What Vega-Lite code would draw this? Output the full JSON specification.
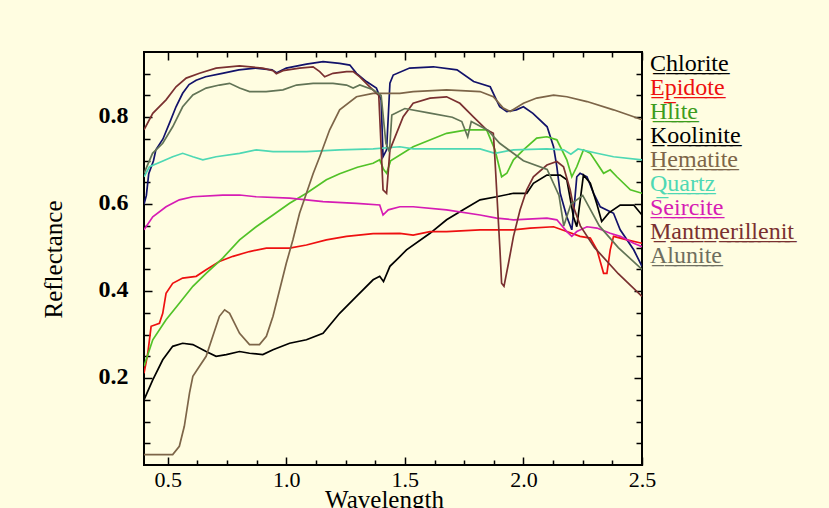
{
  "$schema": "https://vega.github.io/schema/vega-lite/v6.json",
  "width": 498,
  "height": 413,
  "autosize": {"type": "none"},
  "padding": {"left": 144, "top": 52, "right": 187, "bottom": 43},
  "background": "#fffde1",
  "config": {
    "view": {"stroke": "#000000", "strokeWidth": 2, "fill": "#fffde1"},
    "font": "Liberation Serif"
  },
  "datasets": {
    "spectra": [
      {"m":"Koolinite","w":0.40,"r":0.60},{"m":"Koolinite","w":0.41,"r":0.62},{"m":"Koolinite","w":0.42,"r":0.67},{"m":"Koolinite","w":0.44,"r":0.70},{"m":"Koolinite","w":0.45,"r":0.725},{"m":"Koolinite","w":0.48,"r":0.75},{"m":"Koolinite","w":0.51,"r":0.79},{"m":"Koolinite","w":0.535,"r":0.824},{"m":"Koolinite","w":0.563,"r":0.855},{"m":"Koolinite","w":0.59,"r":0.875},{"m":"Koolinite","w":0.62,"r":0.885},{"m":"Koolinite","w":0.66,"r":0.893},{"m":"Koolinite","w":0.73,"r":0.901},{"m":"Koolinite","w":0.80,"r":0.909},{"m":"Koolinite","w":0.87,"r":0.913},{"m":"Koolinite","w":0.94,"r":0.909},{"m":"Koolinite","w":0.96,"r":0.902},{"m":"Koolinite","w":1.0,"r":0.913},{"m":"Koolinite","w":1.085,"r":0.922},{"m":"Koolinite","w":1.155,"r":0.928},{"m":"Koolinite","w":1.225,"r":0.924},{"m":"Koolinite","w":1.268,"r":0.92},{"m":"Koolinite","w":1.296,"r":0.901},{"m":"Koolinite","w":1.338,"r":0.882},{"m":"Koolinite","w":1.38,"r":0.867},{"m":"Koolinite","w":1.40,"r":0.84},{"m":"Koolinite","w":1.408,"r":0.709},{"m":"Koolinite","w":1.423,"r":0.725},{"m":"Koolinite","w":1.437,"r":0.878},{"m":"Koolinite","w":1.451,"r":0.897},{"m":"Koolinite","w":1.52,"r":0.913},{"m":"Koolinite","w":1.62,"r":0.916},{"m":"Koolinite","w":1.72,"r":0.909},{"m":"Koolinite","w":1.79,"r":0.882},{"m":"Koolinite","w":1.86,"r":0.87},{"m":"Koolinite","w":1.88,"r":0.847},{"m":"Koolinite","w":1.90,"r":0.824},{"m":"Koolinite","w":1.93,"r":0.813},{"m":"Koolinite","w":1.97,"r":0.817},{"m":"Koolinite","w":2.0,"r":0.824},{"m":"Koolinite","w":2.04,"r":0.809},{"m":"Koolinite","w":2.10,"r":0.778},{"m":"Koolinite","w":2.127,"r":0.732},{"m":"Koolinite","w":2.141,"r":0.686},{"m":"Koolinite","w":2.155,"r":0.625},{"m":"Koolinite","w":2.183,"r":0.571},{"m":"Koolinite","w":2.204,"r":0.541},{"m":"Koolinite","w":2.215,"r":0.60},{"m":"Koolinite","w":2.225,"r":0.663},{"m":"Koolinite","w":2.239,"r":0.671},{"m":"Koolinite","w":2.268,"r":0.663},{"m":"Koolinite","w":2.296,"r":0.625},{"m":"Koolinite","w":2.324,"r":0.594},{"m":"Koolinite","w":2.38,"r":0.579},{"m":"Koolinite","w":2.408,"r":0.541},{"m":"Koolinite","w":2.465,"r":0.495},{"m":"Koolinite","w":2.50,"r":0.457},

      {"m":"Chlorite","w":0.40,"r":0.15},{"m":"Chlorite","w":0.437,"r":0.196},{"m":"Chlorite","w":0.479,"r":0.242},{"m":"Chlorite","w":0.521,"r":0.273},{"m":"Chlorite","w":0.563,"r":0.28},{"m":"Chlorite","w":0.606,"r":0.277},{"m":"Chlorite","w":0.662,"r":0.261},{"m":"Chlorite","w":0.704,"r":0.25},{"m":"Chlorite","w":0.747,"r":0.254},{"m":"Chlorite","w":0.803,"r":0.261},{"m":"Chlorite","w":0.845,"r":0.257},{"m":"Chlorite","w":0.901,"r":0.254},{"m":"Chlorite","w":0.944,"r":0.265},{"m":"Chlorite","w":1.014,"r":0.28},{"m":"Chlorite","w":1.085,"r":0.288},{"m":"Chlorite","w":1.155,"r":0.303},{"m":"Chlorite","w":1.225,"r":0.349},{"m":"Chlorite","w":1.296,"r":0.388},{"m":"Chlorite","w":1.366,"r":0.426},{"m":"Chlorite","w":1.394,"r":0.434},{"m":"Chlorite","w":1.41,"r":0.422},{"m":"Chlorite","w":1.437,"r":0.457},{"m":"Chlorite","w":1.48,"r":0.48},{"m":"Chlorite","w":1.507,"r":0.495},{"m":"Chlorite","w":1.606,"r":0.533},{"m":"Chlorite","w":1.676,"r":0.564},{"m":"Chlorite","w":1.746,"r":0.587},{"m":"Chlorite","w":1.817,"r":0.61},{"m":"Chlorite","w":1.887,"r":0.617},{"m":"Chlorite","w":1.958,"r":0.625},{"m":"Chlorite","w":2.014,"r":0.625},{"m":"Chlorite","w":2.042,"r":0.648},{"m":"Chlorite","w":2.099,"r":0.667},{"m":"Chlorite","w":2.155,"r":0.667},{"m":"Chlorite","w":2.183,"r":0.656},{"m":"Chlorite","w":2.211,"r":0.571},{"m":"Chlorite","w":2.225,"r":0.548},{"m":"Chlorite","w":2.253,"r":0.667},{"m":"Chlorite","w":2.282,"r":0.648},{"m":"Chlorite","w":2.31,"r":0.60},{"m":"Chlorite","w":2.33,"r":0.56},{"m":"Chlorite","w":2.36,"r":0.58},{"m":"Chlorite","w":2.408,"r":0.598},{"m":"Chlorite","w":2.465,"r":0.598},{"m":"Chlorite","w":2.50,"r":0.575},

      {"m":"Epidote","w":0.40,"r":0.211},{"m":"Epidote","w":0.416,"r":0.257},{"m":"Epidote","w":0.43,"r":0.319},{"m":"Epidote","w":0.465,"r":0.326},{"m":"Epidote","w":0.479,"r":0.349},{"m":"Epidote","w":0.493,"r":0.395},{"m":"Epidote","w":0.521,"r":0.418},{"m":"Epidote","w":0.563,"r":0.43},{"m":"Epidote","w":0.62,"r":0.434},{"m":"Epidote","w":0.662,"r":0.449},{"m":"Epidote","w":0.718,"r":0.468},{"m":"Epidote","w":0.775,"r":0.48},{"m":"Epidote","w":0.845,"r":0.491},{"m":"Epidote","w":0.916,"r":0.499},{"m":"Epidote","w":1.014,"r":0.499},{"m":"Epidote","w":1.085,"r":0.506},{"m":"Epidote","w":1.169,"r":0.518},{"m":"Epidote","w":1.254,"r":0.526},{"m":"Epidote","w":1.366,"r":0.532},{"m":"Epidote","w":1.479,"r":0.533},{"m":"Epidote","w":1.535,"r":0.529},{"m":"Epidote","w":1.606,"r":0.537},{"m":"Epidote","w":1.676,"r":0.537},{"m":"Epidote","w":1.817,"r":0.541},{"m":"Epidote","w":1.958,"r":0.541},{"m":"Epidote","w":2.028,"r":0.545},{"m":"Epidote","w":2.127,"r":0.548},{"m":"Epidote","w":2.183,"r":0.537},{"m":"Epidote","w":2.239,"r":0.526},{"m":"Epidote","w":2.282,"r":0.522},{"m":"Epidote","w":2.31,"r":0.495},{"m":"Epidote","w":2.338,"r":0.441},{"m":"Epidote","w":2.352,"r":0.441},{"m":"Epidote","w":2.366,"r":0.495},{"m":"Epidote","w":2.38,"r":0.526},{"m":"Epidote","w":2.437,"r":0.518},{"m":"Epidote","w":2.50,"r":0.51},

      {"m":"Hlite","w":0.40,"r":0.227},{"m":"Hlite","w":0.437,"r":0.288},{"m":"Hlite","w":0.493,"r":0.334},{"m":"Hlite","w":0.549,"r":0.372},{"m":"Hlite","w":0.606,"r":0.411},{"m":"Hlite","w":0.662,"r":0.441},{"m":"Hlite","w":0.732,"r":0.476},{"m":"Hlite","w":0.803,"r":0.518},{"m":"Hlite","w":0.873,"r":0.548},{"m":"Hlite","w":0.944,"r":0.575},{"m":"Hlite","w":1.014,"r":0.602},{"m":"Hlite","w":1.085,"r":0.625},{"m":"Hlite","w":1.169,"r":0.656},{"m":"Hlite","w":1.225,"r":0.67},{"m":"Hlite","w":1.30,"r":0.685},{"m":"Hlite","w":1.366,"r":0.694},{"m":"Hlite","w":1.394,"r":0.702},{"m":"Hlite","w":1.41,"r":0.68},{"m":"Hlite","w":1.423,"r":0.671},{"m":"Hlite","w":1.44,"r":0.70},{"m":"Hlite","w":1.535,"r":0.732},{"m":"Hlite","w":1.676,"r":0.763},{"m":"Hlite","w":1.761,"r":0.771},{"m":"Hlite","w":1.845,"r":0.771},{"m":"Hlite","w":1.88,"r":0.725},{"m":"Hlite","w":1.908,"r":0.663},{"m":"Hlite","w":1.93,"r":0.671},{"m":"Hlite","w":1.958,"r":0.702},{"m":"Hlite","w":2.0,"r":0.725},{"m":"Hlite","w":2.056,"r":0.752},{"m":"Hlite","w":2.099,"r":0.755},{"m":"Hlite","w":2.141,"r":0.748},{"m":"Hlite","w":2.183,"r":0.702},{"m":"Hlite","w":2.204,"r":0.663},{"m":"Hlite","w":2.225,"r":0.686},{"m":"Hlite","w":2.253,"r":0.725},{"m":"Hlite","w":2.282,"r":0.717},{"m":"Hlite","w":2.31,"r":0.694},{"m":"Hlite","w":2.338,"r":0.671},{"m":"Hlite","w":2.366,"r":0.679},{"m":"Hlite","w":2.394,"r":0.663},{"m":"Hlite","w":2.451,"r":0.633},{"m":"Hlite","w":2.50,"r":0.625},

      {"m":"Quartz","w":0.40,"r":0.663},{"m":"Quartz","w":0.423,"r":0.686},{"m":"Quartz","w":0.465,"r":0.696},{"m":"Quartz","w":0.521,"r":0.709},{"m":"Quartz","w":0.563,"r":0.717},{"m":"Quartz","w":0.606,"r":0.709},{"m":"Quartz","w":0.648,"r":0.702},{"m":"Quartz","w":0.704,"r":0.709},{"m":"Quartz","w":0.803,"r":0.717},{"m":"Quartz","w":0.873,"r":0.725},{"m":"Quartz","w":0.944,"r":0.721},{"m":"Quartz","w":1.085,"r":0.721},{"m":"Quartz","w":1.225,"r":0.725},{"m":"Quartz","w":1.366,"r":0.727},{"m":"Quartz","w":1.479,"r":0.732},{"m":"Quartz","w":1.535,"r":0.727},{"m":"Quartz","w":1.817,"r":0.727},{"m":"Quartz","w":1.88,"r":0.717},{"m":"Quartz","w":1.958,"r":0.725},{"m":"Quartz","w":2.099,"r":0.727},{"m":"Quartz","w":2.17,"r":0.725},{"m":"Quartz","w":2.2,"r":0.715},{"m":"Quartz","w":2.23,"r":0.727},{"m":"Quartz","w":2.31,"r":0.717},{"m":"Quartz","w":2.38,"r":0.709},{"m":"Quartz","w":2.50,"r":0.702},

      {"m":"Seircite","w":0.40,"r":0.541},{"m":"Seircite","w":0.437,"r":0.571},{"m":"Seircite","w":0.493,"r":0.594},{"m":"Seircite","w":0.549,"r":0.61},{"m":"Seircite","w":0.606,"r":0.617},{"m":"Seircite","w":0.732,"r":0.621},{"m":"Seircite","w":0.803,"r":0.621},{"m":"Seircite","w":0.873,"r":0.617},{"m":"Seircite","w":1.014,"r":0.614},{"m":"Seircite","w":1.155,"r":0.606},{"m":"Seircite","w":1.296,"r":0.602},{"m":"Seircite","w":1.394,"r":0.598},{"m":"Seircite","w":1.408,"r":0.575},{"m":"Seircite","w":1.43,"r":0.587},{"m":"Seircite","w":1.479,"r":0.594},{"m":"Seircite","w":1.535,"r":0.594},{"m":"Seircite","w":1.676,"r":0.587},{"m":"Seircite","w":1.817,"r":0.575},{"m":"Seircite","w":1.887,"r":0.568},{"m":"Seircite","w":1.958,"r":0.564},{"m":"Seircite","w":2.099,"r":0.568},{"m":"Seircite","w":2.141,"r":0.564},{"m":"Seircite","w":2.183,"r":0.537},{"m":"Seircite","w":2.204,"r":0.526},{"m":"Seircite","w":2.225,"r":0.537},{"m":"Seircite","w":2.268,"r":0.548},{"m":"Seircite","w":2.31,"r":0.545},{"m":"Seircite","w":2.366,"r":0.533},{"m":"Seircite","w":2.408,"r":0.526},{"m":"Seircite","w":2.465,"r":0.51},{"m":"Seircite","w":2.50,"r":0.502},

      {"m":"Hematite","w":0.40,"r":0.024},{"m":"Hematite","w":0.465,"r":0.024},{"m":"Hematite","w":0.521,"r":0.024},{"m":"Hematite","w":0.549,"r":0.043},{"m":"Hematite","w":0.57,"r":0.089},{"m":"Hematite","w":0.592,"r":0.166},{"m":"Hematite","w":0.606,"r":0.204},{"m":"Hematite","w":0.634,"r":0.227},{"m":"Hematite","w":0.662,"r":0.25},{"m":"Hematite","w":0.69,"r":0.296},{"m":"Hematite","w":0.718,"r":0.342},{"m":"Hematite","w":0.74,"r":0.357},{"m":"Hematite","w":0.761,"r":0.349},{"m":"Hematite","w":0.803,"r":0.303},{"m":"Hematite","w":0.845,"r":0.277},{"m":"Hematite","w":0.887,"r":0.277},{"m":"Hematite","w":0.916,"r":0.296},{"m":"Hematite","w":0.944,"r":0.342},{"m":"Hematite","w":0.972,"r":0.403},{"m":"Hematite","w":1.0,"r":0.464},{"m":"Hematite","w":1.028,"r":0.518},{"m":"Hematite","w":1.056,"r":0.579},{"m":"Hematite","w":1.085,"r":0.625},{"m":"Hematite","w":1.113,"r":0.67},{"m":"Hematite","w":1.141,"r":0.709},{"m":"Hematite","w":1.183,"r":0.771},{"m":"Hematite","w":1.225,"r":0.817},{"m":"Hematite","w":1.296,"r":0.847},{"m":"Hematite","w":1.366,"r":0.855},{"m":"Hematite","w":1.479,"r":0.855},{"m":"Hematite","w":1.535,"r":0.859},{"m":"Hematite","w":1.676,"r":0.863},{"m":"Hematite","w":1.817,"r":0.859},{"m":"Hematite","w":1.873,"r":0.847},{"m":"Hematite","w":1.915,"r":0.821},{"m":"Hematite","w":1.944,"r":0.813},{"m":"Hematite","w":2.0,"r":0.832},{"m":"Hematite","w":2.056,"r":0.844},{"m":"Hematite","w":2.127,"r":0.851},{"m":"Hematite","w":2.183,"r":0.847},{"m":"Hematite","w":2.268,"r":0.836},{"m":"Hematite","w":2.38,"r":0.817},{"m":"Hematite","w":2.465,"r":0.801},{"m":"Hematite","w":2.50,"r":0.794},

      {"m":"Mantmerillenit","w":0.40,"r":0.771},{"m":"Mantmerillenit","w":0.437,"r":0.809},{"m":"Mantmerillenit","w":0.493,"r":0.84},{"m":"Mantmerillenit","w":0.535,"r":0.87},{"m":"Mantmerillenit","w":0.578,"r":0.89},{"m":"Mantmerillenit","w":0.634,"r":0.901},{"m":"Mantmerillenit","w":0.704,"r":0.913},{"m":"Mantmerillenit","w":0.803,"r":0.918},{"m":"Mantmerillenit","w":0.901,"r":0.913},{"m":"Mantmerillenit","w":0.944,"r":0.907},{"m":"Mantmerillenit","w":0.958,"r":0.90},{"m":"Mantmerillenit","w":0.986,"r":0.907},{"m":"Mantmerillenit","w":1.056,"r":0.913},{"m":"Mantmerillenit","w":1.113,"r":0.916},{"m":"Mantmerillenit","w":1.141,"r":0.905},{"m":"Mantmerillenit","w":1.162,"r":0.893},{"m":"Mantmerillenit","w":1.197,"r":0.901},{"m":"Mantmerillenit","w":1.254,"r":0.905},{"m":"Mantmerillenit","w":1.282,"r":0.905},{"m":"Mantmerillenit","w":1.31,"r":0.893},{"m":"Mantmerillenit","w":1.352,"r":0.87},{"m":"Mantmerillenit","w":1.39,"r":0.85},{"m":"Mantmerillenit","w":1.408,"r":0.633},{"m":"Mantmerillenit","w":1.423,"r":0.625},{"m":"Mantmerillenit","w":1.437,"r":0.725},{"m":"Mantmerillenit","w":1.493,"r":0.801},{"m":"Mantmerillenit","w":1.535,"r":0.832},{"m":"Mantmerillenit","w":1.606,"r":0.844},{"m":"Mantmerillenit","w":1.676,"r":0.847},{"m":"Mantmerillenit","w":1.732,"r":0.832},{"m":"Mantmerillenit","w":1.789,"r":0.801},{"m":"Mantmerillenit","w":1.845,"r":0.771},{"m":"Mantmerillenit","w":1.873,"r":0.763},{"m":"Mantmerillenit","w":1.88,"r":0.702},{"m":"Mantmerillenit","w":1.901,"r":0.495},{"m":"Mantmerillenit","w":1.908,"r":0.418},{"m":"Mantmerillenit","w":1.918,"r":0.411},{"m":"Mantmerillenit","w":1.937,"r":0.464},{"m":"Mantmerillenit","w":1.958,"r":0.526},{"m":"Mantmerillenit","w":1.986,"r":0.587},{"m":"Mantmerillenit","w":2.014,"r":0.633},{"m":"Mantmerillenit","w":2.042,"r":0.663},{"m":"Mantmerillenit","w":2.099,"r":0.69},{"m":"Mantmerillenit","w":2.141,"r":0.698},{"m":"Mantmerillenit","w":2.169,"r":0.686},{"m":"Mantmerillenit","w":2.197,"r":0.633},{"m":"Mantmerillenit","w":2.211,"r":0.594},{"m":"Mantmerillenit","w":2.24,"r":0.55},{"m":"Mantmerillenit","w":2.3,"r":0.50},{"m":"Mantmerillenit","w":2.4,"r":0.44},{"m":"Mantmerillenit","w":2.50,"r":0.388},

      {"m":"Alunite","w":0.40,"r":0.671},{"m":"Alunite","w":0.436,"r":0.717},{"m":"Alunite","w":0.479,"r":0.74},{"m":"Alunite","w":0.521,"r":0.778},{"m":"Alunite","w":0.563,"r":0.824},{"m":"Alunite","w":0.606,"r":0.851},{"m":"Alunite","w":0.662,"r":0.867},{"m":"Alunite","w":0.718,"r":0.874},{"m":"Alunite","w":0.761,"r":0.878},{"m":"Alunite","w":0.803,"r":0.867},{"m":"Alunite","w":0.845,"r":0.859},{"m":"Alunite","w":0.915,"r":0.859},{"m":"Alunite","w":0.986,"r":0.863},{"m":"Alunite","w":1.043,"r":0.874},{"m":"Alunite","w":1.113,"r":0.878},{"m":"Alunite","w":1.197,"r":0.878},{"m":"Alunite","w":1.254,"r":0.874},{"m":"Alunite","w":1.282,"r":0.867},{"m":"Alunite","w":1.31,"r":0.874},{"m":"Alunite","w":1.366,"r":0.863},{"m":"Alunite","w":1.40,"r":0.85},{"m":"Alunite","w":1.42,"r":0.74},{"m":"Alunite","w":1.435,"r":0.72},{"m":"Alunite","w":1.445,"r":0.805},{"m":"Alunite","w":1.5,"r":0.82},{"m":"Alunite","w":1.6,"r":0.81},{"m":"Alunite","w":1.7,"r":0.80},{"m":"Alunite","w":1.74,"r":0.79},{"m":"Alunite","w":1.765,"r":0.755},{"m":"Alunite","w":1.78,"r":0.79},{"m":"Alunite","w":1.85,"r":0.77},{"m":"Alunite","w":1.9,"r":0.74},{"m":"Alunite","w":2.0,"r":0.70},{"m":"Alunite","w":2.1,"r":0.68},{"m":"Alunite","w":2.15,"r":0.62},{"m":"Alunite","w":2.17,"r":0.55},{"m":"Alunite","w":2.2,"r":0.60},{"m":"Alunite","w":2.25,"r":0.62},{"m":"Alunite","w":2.32,"r":0.55},{"m":"Alunite","w":2.4,"r":0.50},{"m":"Alunite","w":2.5,"r":0.45}
    ]
  },
  "data": {"name": "spectra"},
  "layer": [
    {
      "mark": {"type": "line", "strokeWidth": 1.7, "clip": true},
      "encoding": {
        "x": {
          "field": "w", "type": "quantitative",
          "scale": {"domain": [0.4, 2.5], "nice": false, "zero": false},
          "axis": {
            "orient": "bottom", "domain": false, "grid": false,
            "values": [0.5,0.625,0.75,0.875,1.0,1.125,1.25,1.375,1.5,1.625,1.75,1.875,2.0,2.125,2.25,2.375,2.5],
            "labelExpr": "abs(datum.value*2 - round(datum.value*2)) < 0.001 ? format(datum.value, '.1f') : ''",
            "tickColor": "#000000", "tickWidth": 1.5,
            "tickSize": {"condition": {"test": "abs(datum.value*2 - round(datum.value*2)) < 0.001", "value": -8}, "value": -5},
            "labelFont": "Liberation Serif", "labelFontSize": 22, "labelColor": "#000000", "labelPadding": 12, "labelFlush": false,
            "title": "Wavelength", "titleFont": "Liberation Serif", "titleFontSize": 25, "titleFontWeight": "normal", "titleColor": "#000000",
            "titleX": 240, "titleY": 42, "titleAlign": "center", "titleBaseline": "alphabetic"
          }
        },
        "y": {
          "field": "r", "type": "quantitative",
          "scale": {"domain": [0, 0.95], "nice": false, "zero": false},
          "axis": {
            "orient": "left", "domain": false, "grid": false,
            "values": [0.05,0.1,0.15,0.2,0.25,0.3,0.35,0.4,0.45,0.5,0.55,0.6,0.65,0.7,0.75,0.8,0.85,0.9],
            "labelExpr": "abs(datum.value*5 - round(datum.value*5)) < 0.001 ? format(datum.value, '.1f') : ''",
            "tickColor": "#000000", "tickWidth": 1.5,
            "tickSize": {"condition": {"test": "abs(datum.value*5 - round(datum.value*5)) < 0.001", "value": -8}, "value": -6},
            "labelFont": "Liberation Serif", "labelFontSize": 24, "labelFontWeight": "bold", "labelColor": "#000000", "labelPadding": 24, "labelOffset": -2,
            "title": "Reflectance", "titleFont": "Liberation Serif", "titleFontSize": 25, "titleFontWeight": "normal", "titleColor": "#000000",
            "titleX": -91, "titleY": 207, "titleAngle": 270, "titleAlign": "center", "titleBaseline": "middle"
          }
        },
        "color": {
          "field": "m", "type": "nominal",
          "scale": {
            "domain": ["Chlorite","Epidote","Hlite","Koolinite","Hematite","Quartz","Seircite","Mantmerillenit","Alunite"],
            "range": ["#000000","#ee1010","#52c228","#12126a","#7d6548","#4ed8b4","#d61cb4","#7a3030","#627456"]
          },
          "legend": {
            "orient": "none", "legendX": 482, "legendY": 0, "padding": 0, "title": null,
            "symbolSize": 0, "symbolOpacity": 0, "symbolStrokeWidth": 0, "labelOffset": 0,
            "labelFont": "Liberation Serif", "labelFontSize": 24, "labelLimit": 300, "rowPadding": -2,
            "labelColor": {"expr": "datum.value == 'Koolinite' ? '#000000' : datum.value == 'Hlite' ? '#3c9c1c' : datum.value == 'Alunite' ? '#6e6e5e' : scale('color', datum.value)"},
            "labelExpr": "replace(datum.label, /(.)/g, '$1\u0332')"
          }
        }
      }
    },
    {
      "mark": {"type": "point", "opacity": 0, "size": 0},
      "encoding": {
        "x": {
          "field": "w", "type": "quantitative",
          "axis": {
            "orient": "top", "domain": false, "grid": false, "labels": false, "title": null,
            "values": [0.5,0.625,0.75,0.875,1.0,1.125,1.25,1.375,1.5,1.625,1.75,1.875,2.0,2.125,2.25,2.375,2.5],
            "tickColor": "#000000", "tickWidth": 1.5,
            "tickSize": {"condition": {"test": "abs(datum.value*2 - round(datum.value*2)) < 0.001", "value": -8}, "value": -5}
          }
        },
        "y": {
          "field": "r", "type": "quantitative",
          "axis": {
            "orient": "right", "domain": false, "grid": false, "labels": false, "title": null,
            "values": [0.05,0.1,0.15,0.2,0.25,0.3,0.35,0.4,0.45,0.5,0.55,0.6,0.65,0.7,0.75,0.8,0.85,0.9],
            "tickColor": "#000000", "tickWidth": 1.5,
            "tickSize": {"condition": {"test": "abs(datum.value*5 - round(datum.value*5)) < 0.001", "value": -8}, "value": -6}
          }
        }
      }
    }
  ],
  "resolve": {"axis": {"x": "independent", "y": "independent"}}
}
